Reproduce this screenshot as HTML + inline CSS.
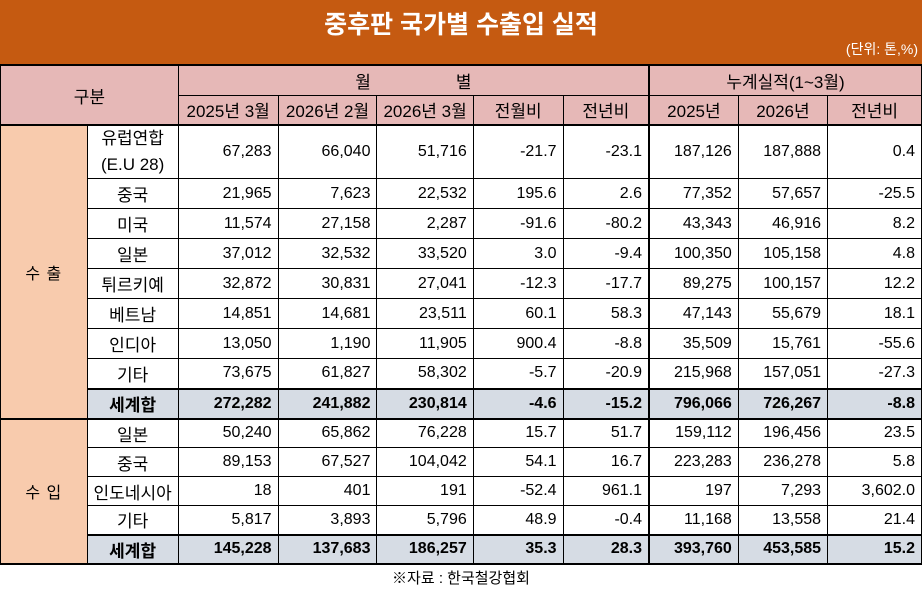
<!DOCTYPE html>
<html><head><meta charset="utf-8">
<style>
html,body{margin:0;padding:0;background:#fff;}
body{width:922px;height:595px;position:relative;overflow:hidden;font-family:"Liberation Sans","Malgun Gothic","Noto Sans CJK KR",sans-serif;color:#000;}
.title{position:absolute;left:0;top:0;width:922px;height:64px;background:#c55a11;}
.title .t{position:absolute;left:0;width:922px;top:5px;text-align:center;color:#fff;font-size:25px;font-weight:bold;}
.title .u{position:absolute;right:4px;top:39px;color:#fff;font-size:14px;}
table{position:absolute;left:0;top:64px;border-collapse:collapse;table-layout:fixed;font-size:16px;}
td{border:1px solid #000;padding:0 6px;white-space:nowrap;overflow:hidden;}
.h{background:#e6b8b7;text-align:center;font-size:17px;}
.cat{background:#f8cbad;text-align:center;font-size:16px;letter-spacing:1px;}
.c{text-align:center;font-size:17px;}
.n{text-align:right;}
.tot td{background:#d6dce4;font-weight:bold;}
.tot td.c{font-weight:bold;}
.thick td{border-bottom:2px solid #000;}
.foot{position:absolute;left:0;top:567px;width:922px;text-align:center;font-size:15px;}
</style></head><body>
<div class="title"><div class="t">중후판 국가별 수출입 실적</div><div class="u">(단위: 톤,%)</div></div>
<table style="border-top:2px solid #000;">
<colgroup><col style="width:88px"><col style="width:87px"><col style="width:100px"><col style="width:99px"><col style="width:95px"><col style="width:91px"><col style="width:87px"><col style="width:90px"><col style="width:90px"><col style="width:95px"></colgroup>
<tr style="height:30px"><td class="h" colspan="2" rowspan="2">구분</td><td class="h" colspan="5" style="border-right:2px solid #000">월　　　　　별</td><td class="h" colspan="3">누계실적(1~3월)</td></tr>
<tr style="height:30px"><td class="h">2025년 3월</td><td class="h">2026년 2월</td><td class="h">2026년 3월</td><td class="h">전월비</td><td class="h" style="border-right:2px solid #000">전년비</td><td class="h">2025년</td><td class="h">2026년</td><td class="h">전년비</td></tr>
<tr style="height:53px;border-top:2px solid #000"><td class="cat" rowspan="9" style="border-bottom:2px solid #000">수 출</td><td class="c" style="line-height:26px">유럽연합<br>(E.U 28)</td><td class="n">67,283</td><td class="n">66,040</td><td class="n">51,716</td><td class="n">-21.7</td><td class="n" style="border-right:2px solid #000">-23.1</td><td class="n">187,126</td><td class="n">187,888</td><td class="n">0.4</td></tr>
<tr style="height:30px"><td class="c">중국</td><td class="n">21,965</td><td class="n">7,623</td><td class="n">22,532</td><td class="n">195.6</td><td class="n" style="border-right:2px solid #000">2.6</td><td class="n">77,352</td><td class="n">57,657</td><td class="n">-25.5</td></tr>
<tr style="height:30px"><td class="c">미국</td><td class="n">11,574</td><td class="n">27,158</td><td class="n">2,287</td><td class="n">-91.6</td><td class="n" style="border-right:2px solid #000">-80.2</td><td class="n">43,343</td><td class="n">46,916</td><td class="n">8.2</td></tr>
<tr style="height:30px"><td class="c">일본</td><td class="n">37,012</td><td class="n">32,532</td><td class="n">33,520</td><td class="n">3.0</td><td class="n" style="border-right:2px solid #000">-9.4</td><td class="n">100,350</td><td class="n">105,158</td><td class="n">4.8</td></tr>
<tr style="height:30px"><td class="c">튀르키예</td><td class="n">32,872</td><td class="n">30,831</td><td class="n">27,041</td><td class="n">-12.3</td><td class="n" style="border-right:2px solid #000">-17.7</td><td class="n">89,275</td><td class="n">100,157</td><td class="n">12.2</td></tr>
<tr style="height:30px"><td class="c">베트남</td><td class="n">14,851</td><td class="n">14,681</td><td class="n">23,511</td><td class="n">60.1</td><td class="n" style="border-right:2px solid #000">58.3</td><td class="n">47,143</td><td class="n">55,679</td><td class="n">18.1</td></tr>
<tr style="height:30px"><td class="c">인디아</td><td class="n">13,050</td><td class="n">1,190</td><td class="n">11,905</td><td class="n">900.4</td><td class="n" style="border-right:2px solid #000">-8.8</td><td class="n">35,509</td><td class="n">15,761</td><td class="n">-55.6</td></tr>
<tr style="height:30px"><td class="c">기타</td><td class="n">73,675</td><td class="n">61,827</td><td class="n">58,302</td><td class="n">-5.7</td><td class="n" style="border-right:2px solid #000">-20.9</td><td class="n">215,968</td><td class="n">157,051</td><td class="n">-27.3</td></tr>
<tr class="tot thick" style="height:30px;border-top:2px solid #000"><td class="c">세계합</td><td class="n">272,282</td><td class="n">241,882</td><td class="n">230,814</td><td class="n">-4.6</td><td class="n" style="border-right:2px solid #000">-15.2</td><td class="n">796,066</td><td class="n">726,267</td><td class="n">-8.8</td></tr>
<tr style="height:29px"><td class="cat" rowspan="5" style="border-bottom:2px solid #000">수 입</td><td class="c">일본</td><td class="n">50,240</td><td class="n">65,862</td><td class="n">76,228</td><td class="n">15.7</td><td class="n" style="border-right:2px solid #000">51.7</td><td class="n">159,112</td><td class="n">196,456</td><td class="n">23.5</td></tr>
<tr style="height:29px"><td class="c">중국</td><td class="n">89,153</td><td class="n">67,527</td><td class="n">104,042</td><td class="n">54.1</td><td class="n" style="border-right:2px solid #000">16.7</td><td class="n">223,283</td><td class="n">236,278</td><td class="n">5.8</td></tr>
<tr style="height:29px"><td class="c">인도네시아</td><td class="n">18</td><td class="n">401</td><td class="n">191</td><td class="n">-52.4</td><td class="n" style="border-right:2px solid #000">961.1</td><td class="n">197</td><td class="n">7,293</td><td class="n">3,602.0</td></tr>
<tr style="height:29px"><td class="c">기타</td><td class="n">5,817</td><td class="n">3,893</td><td class="n">5,796</td><td class="n">48.9</td><td class="n" style="border-right:2px solid #000">-0.4</td><td class="n">11,168</td><td class="n">13,558</td><td class="n">21.4</td></tr>
<tr class="tot thick" style="height:29px;border-top:2px solid #000"><td class="c">세계합</td><td class="n">145,228</td><td class="n">137,683</td><td class="n">186,257</td><td class="n">35.3</td><td class="n" style="border-right:2px solid #000">28.3</td><td class="n">393,760</td><td class="n">453,585</td><td class="n">15.2</td></tr>
</table>
<div class="foot">※자료 : 한국철강협회</div>
</body></html>
